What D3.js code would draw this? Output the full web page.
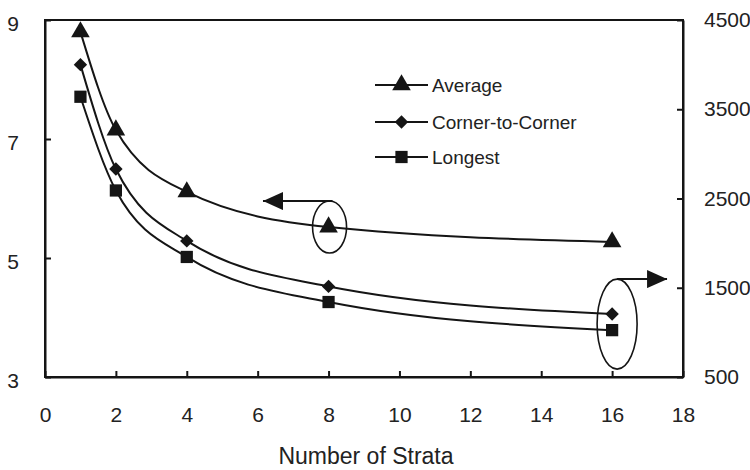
<!DOCTYPE html>
<html>
<head>
<meta charset="utf-8">
<script src="https://cdn.jsdelivr.net/npm/d3@7"></script>
<style>
  html, body { margin: 0; padding: 0; background: #fff; }
  svg { display: block; font-family: "Liberation Sans", Arial, Helvetica, sans-serif; }
</style>
</head>
<body>
<svg id="chart" width="750" height="470"></svg>
<script>
// Number of strata on the x axis
const strata = [1, 2, 4, 8, 16];
// Average series, read against the left axis
const average = [8.80, 7.15, 6.11, 5.52, 5.27];
// Corner-to-corner and longest series, read against the right axis
const cornerToCorner = [4000, 2830, 2025, 1515, 1205];
const longest = [3640, 2590, 1845, 1340, 1025];

const xTicks = [0, 2, 4, 6, 8, 10, 12, 14, 16, 18];
const leftTicks = [3, 5, 7, 9];
const rightTicks = [500, 1500, 2500, 3500, 4500];
const seriesNames = ["Average", "Corner-to-Corner", "Longest"];

const svg = d3.select("#chart");
const ink = "#151515";

const x = d3.scaleLinear().domain([0, 18]).range([45, 683]);
const yL = d3.scaleLinear().domain([3, 9]).range([377, 20]);
const yR = d3.scaleLinear().domain([500, 4500]).range([377, 20]);

// Frame around the plot area
svg.append("rect")
  .attr("x", x(0)).attr("y", yL(9))
  .attr("width", x(18) - x(0)).attr("height", yL(3) - yL(9))
  .attr("fill", "none").attr("stroke", ink).attr("stroke-width", 2);

// Axes with inward ticks
const tickFont = 21;
const plain = d3.format("d");
const xAxis = svg.append("g")
  .attr("transform", `translate(0,${yL(3)})`)
  .call(d3.axisBottom(x).tickValues(xTicks).tickFormat(plain)
    .tickSizeInner(-6).tickSizeOuter(0).tickPadding(30));
const leftAxis = svg.append("g")
  .attr("transform", `translate(${x(0)},0)`)
  .call(d3.axisLeft(yL).tickValues(leftTicks).tickFormat(plain)
    .tickSizeInner(-6).tickSizeOuter(0).tickPadding(26));
const rightAxis = svg.append("g")
  .attr("transform", `translate(${x(18)},0)`)
  .call(d3.axisRight(yR).tickValues(rightTicks).tickFormat(plain)
    .tickSizeInner(-6).tickSizeOuter(0).tickPadding(21));

[xAxis, leftAxis, rightAxis].forEach(g => {
  g.select(".domain").attr("stroke", ink).attr("stroke-width", 2);
  g.selectAll(".tick line").attr("stroke", ink).attr("stroke-width", 2);
  g.selectAll(".tick text")
    .attr("fill", "#222")
    .style("font-size", tickFont + "px")
    .style("font-family", "'Liberation Sans', Arial, sans-serif");
});
leftAxis.selectAll(".tick text").attr("dy", "0.5em");

// Axis title
svg.append("text")
  .attr("x", 366).attr("y", 464)
  .attr("text-anchor", "middle")
  .attr("fill", "#222")
  .style("font-size", "23px")
  .text("Number of Strata");

// Curves through the data points
const line = (ys, yScale) => d3.line()
  .x((d, i) => x(strata[i]))
  .y(d => yScale(d))
  .curve(d3.curveMonotoneX)(ys);

const series = [
  { values: average, scale: yL, symbol: d3.symbolTriangle, size: 150, rotate: 0 },
  { values: cornerToCorner, scale: yR, symbol: d3.symbolSquare, size: 90, rotate: 45 },
  { values: longest, scale: yR, symbol: d3.symbolSquare, size: 150, rotate: 0 }
];

series.forEach(s => {
  svg.append("path")
    .attr("d", line(s.values, s.scale))
    .attr("fill", "none").attr("stroke", ink).attr("stroke-width", 2);
  svg.append("g").selectAll("path")
    .data(s.values)
    .join("path")
    .attr("transform", (d, i) => `translate(${x(strata[i])},${s.scale(d)}) rotate(${s.rotate})`)
    .attr("d", d3.symbol().type(s.symbol).size(s.size))
    .attr("fill", ink);
});

// Legend
const legend = svg.append("g");
seriesNames.forEach((name, i) => {
  const s = series[i];
  const ly = [85, 122, 157][i];
  legend.append("line")
    .attr("x1", 375).attr("x2", 428).attr("y1", ly).attr("y2", ly)
    .attr("stroke", ink).attr("stroke-width", 2);
  legend.append("path")
    .attr("transform", `translate(401.5,${ly}) rotate(${s.rotate})`)
    .attr("d", d3.symbol().type(s.symbol).size(s.size))
    .attr("fill", ink);
  legend.append("text")
    .attr("x", 432).attr("y", ly).attr("dy", "0.35em")
    .attr("fill", "#222")
    .style("font-size", "19px")
    .text(name);
});

// Callouts: which axis each group of curves belongs to
const defs = svg.append("defs");
defs.append("marker")
  .attr("id", "head").attr("viewBox", "0 0 20 18")
  .attr("refX", 20).attr("refY", 9)
  .attr("markerWidth", 20).attr("markerHeight", 18)
  .attr("markerUnits", "userSpaceOnUse")
  .attr("orient", "auto")
  .append("path").attr("d", "M0,0 L20,9 L0,18 Z").attr("fill", ink);

// Average at 8 strata -> left axis
const cx1 = x(8), cy1 = yL(average[3]);
svg.append("ellipse")
  .attr("cx", cx1 + 1).attr("cy", cy1)
  .attr("rx", 17).attr("ry", 26)
  .attr("fill", "none").attr("stroke", ink).attr("stroke-width", 1.6);
svg.append("path")
  .attr("d", `M${cx1 + 4},${cy1 - 26} L${x(6.15)},${cy1 - 26}`)
  .attr("fill", "none").attr("stroke", ink).attr("stroke-width", 2)
  .attr("marker-end", "url(#head)");

// Corner-to-corner and longest at 16 strata -> right axis
const cx2 = x(16) + 5, cy2 = (yR(cornerToCorner[4]) + yR(longest[4])) / 2 + 2;
svg.append("ellipse")
  .attr("cx", cx2).attr("cy", cy2)
  .attr("rx", 20).attr("ry", 45)
  .attr("fill", "none").attr("stroke", ink).attr("stroke-width", 1.6);
svg.append("path")
  .attr("d", `M${cx2},${cy2 - 45} L${x(17.55)},${cy2 - 45}`)
  .attr("fill", "none").attr("stroke", ink).attr("stroke-width", 2)
  .attr("marker-end", "url(#head)");
</script>
</body>
</html>
